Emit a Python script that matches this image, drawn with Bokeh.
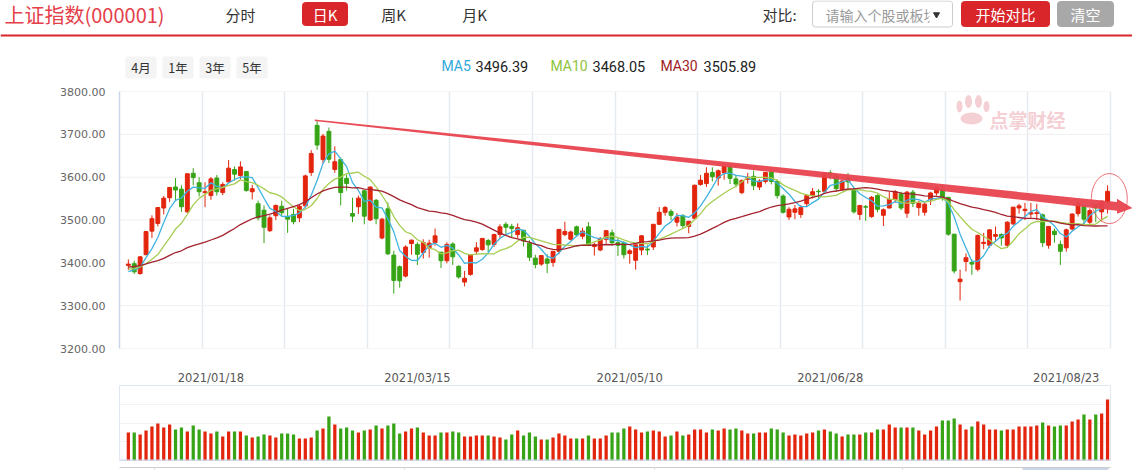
import numpy as np
import pandas as pd
from bokeh.plotting import figure
from bokeh.layouts import column
from bokeh.models import Range1d, FixedTicker, NumeralTickFormatter, Grid, ColumnDataSource, Span
from bokeh.core.properties import value
from bokeh.embed import file_html
from bokeh.resources import INLINE

# ---------------- data ----------------
holidays = ["2021-01-01", "2021-02-11", "2021-02-12", "2021-02-15", "2021-02-16", "2021-02-17",
            "2021-04-05", "2021-05-03", "2021-05-04", "2021-05-05", "2021-06-14"]
dates = [d for d in pd.bdate_range("2020-12-28", "2021-09-01") if d.strftime("%Y-%m-%d") not in holidays]

# closes of the 29 sessions before the window (needed for the moving averages)
close_before = [3340, 3347, 3363, 3378, 3414, 3403, 3362, 3370, 3408, 3392,
                3452, 3449, 3442, 3445, 3417, 3410, 3372, 3373, 3347, 3369,
                3367, 3367, 3405, 3395, 3421, 3357, 3382, 3363, 3397]

open_ = [3394, 3398, 3375, 3419, 3474, 3492, 3528, 3552, 3577, 3572,
         3519, 3609, 3587, 3564, 3557, 3598, 3564, 3589, 3618, 3604,
         3613, 3566, 3538, 3523, 3475, 3510, 3532, 3507, 3513, 3505,
         3533, 3611, 3721, 3641, 3707, 3618, 3641, 3597, 3515, 3531,
         3568, 3500, 3546, 3458, 3526, 3418, 3391, 3369, 3445, 3443,
         3424, 3435, 3447, 3425, 3405, 3444, 3392, 3355, 3373, 3427,
         3431, 3452, 3443, 3466, 3490, 3485, 3466, 3476, 3446, 3411,
         3397, 3409, 3401, 3427, 3466, 3455, 3484, 3462, 3484, 3438,
         3430, 3455, 3470, 3447, 3447, 3422, 3406, 3430, 3432, 3437,
         3490, 3518, 3520, 3495, 3510, 3485, 3504, 3583, 3585, 3611,
         3598, 3610, 3625, 3596, 3564, 3595, 3602, 3577, 3590, 3612,
         3590, 3556, 3507, 3518, 3513, 3538, 3557, 3567, 3567, 3610,
         3604, 3571, 3598, 3571, 3513, 3531, 3508, 3557, 3511, 3528,
         3548, 3561, 3516, 3565, 3529, 3518, 3548, 3563, 3570, 3553,
         3467, 3356, 3403, 3401, 3385, 3445, 3441, 3462, 3466, 3441,
         3491, 3528, 3522, 3514, 3515, 3512, 3441, 3474, 3443, 3435,
         3479, 3515, 3532, 3495, 3535, 3519, 3541]

high = [3408, 3405, 3416, 3474, 3511, 3529, 3556, 3577, 3598, 3581,
        3608, 3621, 3600, 3588, 3600, 3605, 3588, 3640, 3625, 3637,
        3613, 3582, 3545, 3534, 3511, 3536, 3545, 3527, 3526, 3537,
        3606, 3663, 3732, 3701, 3716, 3672, 3646, 3606, 3552, 3557,
        3570, 3578, 3549, 3505, 3541, 3428, 3394, 3441, 3454, 3448,
        3455, 3454, 3480, 3425, 3448, 3448, 3394, 3381, 3420, 3448,
        3458, 3456, 3468, 3490, 3495, 3491, 3492, 3477, 3453, 3419,
        3418, 3420, 3427, 3479, 3496, 3475, 3487, 3482, 3495, 3447,
        3460, 3477, 3478, 3457, 3450, 3432, 3442, 3465, 3441, 3490,
        3530, 3533, 3525, 3516, 3514, 3498, 3583, 3605, 3623, 3623,
        3618, 3628, 3626, 3606, 3595, 3610, 3615, 3595, 3612, 3614,
        3595, 3560, 3530, 3535, 3535, 3560, 3575, 3572, 3612, 3616,
        3607, 3594, 3610, 3575, 3535, 3535, 3556, 3560, 3527, 3566,
        3570, 3566, 3568, 3570, 3545, 3540, 3566, 3579, 3580, 3553,
        3467, 3384, 3422, 3408, 3466, 3470, 3478, 3485, 3469, 3497,
        3530, 3538, 3540, 3540, 3538, 3515, 3486, 3480, 3452, 3480,
        3515, 3545, 3535, 3527, 3542, 3545, 3581]

low = [3383, 3374, 3372, 3418, 3458, 3485, 3513, 3542, 3544, 3519,
       3517, 3581, 3555, 3530, 3547, 3557, 3558, 3588, 3592, 3595,
       3566, 3548, 3499, 3446, 3472, 3500, 3510, 3470, 3490, 3495,
       3530, 3603, 3664, 3632, 3633, 3610, 3534, 3569, 3495, 3514,
       3490, 3498, 3490, 3455, 3418, 3328, 3342, 3366, 3419, 3395,
       3410, 3412, 3440, 3388, 3399, 3395, 3363, 3345, 3370, 3419,
       3428, 3425, 3437, 3458, 3468, 3458, 3458, 3438, 3404, 3387,
       3393, 3376, 3391, 3420, 3462, 3452, 3460, 3455, 3439, 3417,
       3427, 3445, 3440, 3416, 3410, 3398, 3384, 3418, 3418, 3430,
       3488, 3510, 3500, 3485, 3480, 3469, 3503, 3580, 3577, 3590,
       3580, 3594, 3584, 3576, 3560, 3585, 3570, 3570, 3585, 3583,
       3550, 3515, 3500, 3502, 3505, 3530, 3550, 3550, 3566, 3595,
       3566, 3568, 3574, 3515, 3500, 3498, 3505, 3518, 3486, 3527,
       3540, 3523, 3505, 3530, 3510, 3510, 3535, 3557, 3545, 3463,
       3375, 3312, 3380, 3372, 3380, 3432, 3435, 3449, 3440, 3435,
       3488, 3515, 3500, 3505, 3500, 3437, 3433, 3447, 3395, 3426,
       3475, 3508, 3490, 3487, 3495, 3497, 3515]

close = [3397, 3379, 3414, 3473, 3503, 3529, 3551, 3576, 3570, 3531,
         3608, 3599, 3566, 3566, 3596, 3566, 3583, 3621, 3607, 3624,
         3569, 3573, 3505, 3483, 3505, 3534, 3517, 3502, 3496, 3532,
         3603, 3655, 3675, 3696, 3642, 3636, 3564, 3585, 3509, 3551,
         3509, 3577, 3503, 3502, 3421, 3359, 3358, 3437, 3453, 3420,
         3447, 3446, 3463, 3405, 3443, 3414, 3367, 3364, 3418, 3435,
         3457, 3442, 3466, 3484, 3483, 3480, 3482, 3451, 3413, 3396,
         3417, 3399, 3427, 3478, 3473, 3472, 3465, 3474, 3441, 3443,
         3457, 3475, 3447, 3441, 3419, 3428, 3442, 3463, 3430, 3490,
         3518, 3529, 3511, 3507, 3487, 3497, 3581, 3593, 3609, 3601,
         3615, 3625, 3597, 3584, 3592, 3600, 3580, 3591, 3611, 3590,
         3557, 3518, 3525, 3526, 3529, 3557, 3566, 3566, 3608, 3606,
         3573, 3591, 3589, 3519, 3534, 3530, 3553, 3525, 3524, 3548,
         3566, 3528, 3565, 3539, 3539, 3537, 3563, 3575, 3550, 3467,
         3381, 3362, 3412, 3397, 3464, 3448, 3477, 3466, 3458, 3495,
         3530, 3533, 3525, 3517, 3517, 3447, 3485, 3466, 3427, 3477,
         3514, 3538, 3502, 3522, 3528, 3544, 3567]

volume = [336, 336, 312, 360, 408, 444, 396, 432, 372, 396,
          348, 420, 372, 348, 324, 348, 288, 348, 348, 348,
          300, 276, 288, 312, 300, 276, 324, 324, 312, 264,
          264, 276, 360, 384, 528, 432, 384, 396, 360, 336,
          360, 372, 420, 384, 420, 444, 324, 348, 384, 396,
          336, 300, 300, 336, 336, 348, 336, 288, 288, 300,
          300, 300, 288, 276, 252, 312, 360, 300, 336, 288,
          252, 252, 276, 324, 300, 264, 264, 264, 300, 264,
          264, 300, 336, 336, 384, 408, 372, 336, 348, 360,
          348, 288, 300, 348, 300, 312, 372, 372, 336, 372,
          360, 384, 372, 384, 360, 324, 324, 336, 336, 384,
          372, 336, 300, 312, 300, 324, 336, 360, 372, 348,
          324, 288, 312, 312, 312, 336, 336, 372, 372, 432,
          396, 396, 396, 396, 360, 312, 360, 408, 480, 480,
          504, 432, 372, 408, 468, 432, 372, 372, 360, 372,
          372, 408, 408, 408, 420, 456, 420, 408, 420, 420,
          468, 492, 552, 492, 552, 564, 732]

price_ticks = [3200, 3300, 3400, 3500, 3600, 3700, 3800]
date_tick_labels = ["2021/01/18", "2021/03/15", "2021/05/10", "2021/06/28", "2021/08/23"]
ma_windows = [5, 10, 30]
ma_names = ["MA5", "MA10", "MA30"]
ma_legend_values = ["3496.39", "3468.05", "3505.89"]
period_buttons = ["4月", "1年", "3年", "5年"]

# trend line drawn on the chart (index, price)
trend_start = (31.6, 3733)
trend_end = (170.2, 3528)
highlight = (166.3, 3550)

# ---------------- styling ----------------
RED = "#e2250c"
GREEN = "#36a416"
MA_COLORS = ["#3fb3e0", "#a7cd52", "#a3232f"]
MA_TEXT = ["#2fa8dc", "#8dc43c", "#9e1b24"]
CJK = "Noto Sans CJK SC"
ARROW = "#e8434f"

N = len(close)
x = np.arange(N)
o = np.array(open_, float); c = np.array(close, float)
up = c >= o
colors = [RED if u else GREEN for u in up]
allc = pd.Series(close_before + close, dtype=float)
mas = [allc.rolling(w).mean().iloc[-N:].to_numpy() for w in ma_windows]

src = ColumnDataSource(dict(
    x=x, open=o, close=c, high=high, low=low,
    top=np.maximum(o, c), bottom=np.minimum(o, c), color=colors,
    vol=volume, ma5=mas[0], ma10=mas[1], ma30=mas[2]))

# geometry (page pixels)
FIG_W = 1132
FRAME_L = 119
X0, X1 = -1.5, 166.5   # index range over 991 px
PXX = 991 / (X1 - X0)
MAIN_XEND = X0 + (FIG_W - FRAME_L) / PXX
PXY = 257 / 600.0


def no_align(fig):
    if "frame_align" in fig.properties():
        fig.frame_align = False
    return fig


# ---------------- header ----------------
hdr = figure(width=FIG_W, height=81, x_range=Range1d(0, FIG_W), y_range=Range1d(81, 0),
             output_backend="svg", toolbar_location=None, x_axis_location=None,
             y_axis_location=None, min_border=0, outline_line_color=None)
no_align(hdr)
hdr.grid.visible = False

hdr.quad(left=[302, 812, 961, 1057], right=[347, 952, 1049, 1113],
         top=[2, 0.5, 1, 1], bottom=[25, 26.5, 26, 26],
         fill_color=["#d9262b", "white", "#d9262b", "#a8a8a8"],
         line_color=["#d9262b", "#cccccc", "#d9262b", "#a8a8a8"], border_radius=3)
hdr.text(x=[4], y=[14], text=["上证指数(000001)"], text_font=value(CJK), text_font_size="20px",
         text_color="#e5404a", text_align="left", text_baseline="middle")
hdr.text(x=[240, 324.5, 393, 474], y=[14] * 4, text=["分时", "日K", "周K", "月K"],
         text_font=value(CJK), text_font_size="15px",
         text_color=["#333333", "white", "#333333", "#333333"],
         text_align="center", text_baseline="middle")
hdr.text(x=[762], y=[14], text=["对比:"], text_font=value(CJK), text_font_size="15px",
         text_color="#333333", text_align="left", text_baseline="middle")
hdr.text(x=[825], y=[14], text=["请输入个股或板块"], text_font=value(CJK), text_font_size="14px",
         text_color="#999999", text_align="left", text_baseline="middle")
hdr.quad(left=[929], right=[951], top=[2], bottom=[25], fill_color="white", line_color=None)
hdr.scatter(x=[936], y=[14], marker="inverted_triangle", size=6, color="#333333")
hdr.text(x=[1005, 1085], y=[14, 14], text=["开始对比", "清空"], text_font=value(CJK),
         text_font_size="15px", text_color="white", text_align="center", text_baseline="middle")
hdr.segment(x0=[0], x1=[FIG_W], y0=[35], y1=[35], line_color="#d9262b", line_width=2)

bl = [125, 162, 199, 236]
hdr.quad(left=bl, right=[b + 31 for b in bl], top=[56] * 4, bottom=[78] * 4,
         fill_color="#f4f4f4", line_color=None, border_radius=2)
hdr.text(x=[b + 15.5 for b in bl], y=[67] * 4, text=period_buttons, text_font=value(CJK),
         text_font_size="12.5px", text_color="#333333", text_align="center", text_baseline="middle")

hdr.text(x=[441, 550, 660], y=[65.5] * 3, text=ma_names, text_font=value("Roboto"),
         text_font_size="14px", text_color=MA_TEXT, text_align="left", text_baseline="middle")
hdr.text(x=[475, 592, 703], y=[65.5] * 3, text=ma_legend_values, text_font=value("Roboto"),
         text_font_size="14.5px", text_color="#222222", text_align="left", text_baseline="middle")

# ---------------- main candle chart ----------------
main = figure(width=FIG_W, height=279, x_range=Range1d(X0, MAIN_XEND), y_range=Range1d(3200, 3800),
              output_backend="svg", toolbar_location=None, x_axis_location=None,
              min_border_left=FRAME_L, min_border_right=0, min_border_top=10, min_border_bottom=12,
              outline_line_color=None)
no_align(main)
main.grid.visible = False
main.add_layout(Grid(dimension=0, ticker=FixedTicker(ticks=list(np.arange(X0, X1 + 0.1, 14))),
                     grid_line_color="#e5eaf1", grid_line_width=1.5))
main.segment(x0=[X0] * len(price_ticks), x1=[X1] * len(price_ticks), y0=price_ticks, y1=price_ticks,
             line_color="#f0f0f0", line_width=1)

ya = main.yaxis[0]
ya.ticker = FixedTicker(ticks=price_ticks)
ya.formatter = NumeralTickFormatter(format="0.00")
ya.bounds = (3200, 3800)
ya.axis_line_color = "#ccd6eb"
ya.axis_line_width = 1.5
ya.major_tick_line_color = None
ya.minor_tick_line_color = None
ya.major_tick_out = 0
ya.major_label_standoff = 14
ya.major_label_text_font = "DejaVu Sans"
ya.major_label_text_font_size = "11px"
ya.major_label_text_color = "#666666"


def px_x(ax):
    return X0 + (ax - FRAME_L) / PXX


def px_y(ay):
    return 3800 - (ay - 91) / PXY


WM = "#f4cfd4"
main.ellipse(x=[px_x(959), px_x(968), px_x(978), px_x(986), px_x(971)],
             y=[px_y(106), px_y(101), px_y(101), px_y(106), px_y(118)],
             width=[6 / PXX, 7 / PXX, 7 / PXX, 6 / PXX, 22 / PXX],
             height=[12 / PXY, 13 / PXY, 13 / PXY, 11 / PXY, 12 / PXY],
             fill_color=WM, line_color=None)
main.text(x=[px_x(989)], y=[px_y(119)], text=["点掌财经"], text_font=value(CJK),
          text_font_size="19px", text_font_style="bold", text_color=WM,
          text_align="left", text_baseline="middle")

main.segment(x0="x", x1="x", y0="high", y1="low", line_color="color", line_width=1, source=src)
main.vbar(x="x", width=0.66, top="top", bottom="bottom", fill_color="color", line_color="color",
          source=src)
for col, clr in zip(["ma5", "ma10", "ma30"], MA_COLORS):
    main.line(x="x", y=col, line_color=clr, line_width=1.3, source=src)

tx0, ty0 = trend_start
txt, tyt = trend_end
slope = (tyt - ty0) / (txt - tx0)
xb = txt - 2.6
yb = ty0 + slope * (xb - tx0)
t0, t1, hh = 0.8 / PXY, 4.3 / PXY, 7.5 / PXY
main.patch(x=[tx0, xb, xb, txt, xb, xb, tx0],
           y=[ty0 + t0, yb + t1, yb + hh, tyt, yb - hh, yb - t1, ty0 - t0],
           fill_color=ARROW, fill_alpha=0.95, line_color=None)
main.ellipse(x=[highlight[0]], y=[highlight[1]], width=36 / PXX, height=50 / PXY,
             fill_color=None, line_color=ARROW, line_alpha=0.75, line_width=1)

# ---------------- volume ----------------
vol = figure(width=FIG_W, height=102, x_range=Range1d(X0, X1), y_range=Range1d(0, 900),
             output_backend="svg", toolbar_location=None, x_axis_location="above",
             y_axis_location=None, min_border_left=FRAME_L, min_border_right=FIG_W - FRAME_L - 991,
             min_border_top=25, min_border_bottom=2, outline_line_color="#e2e8f0")
no_align(vol)
vol.xgrid.visible = False
vol.ygrid.ticker = FixedTicker(ticks=[225, 450, 675])
vol.ygrid.grid_line_color = "#f0f2f5"
tick_idx = [dates.index(pd.Timestamp(s.replace("/", "-"))) for s in date_tick_labels]
xa = vol.xaxis[0]
xa.ticker = FixedTicker(ticks=tick_idx)
xa.major_label_overrides = {i: s for i, s in zip(tick_idx, date_tick_labels)}
xa.axis_line_color = None
xa.major_tick_line_color = None
xa.minor_tick_line_color = None
xa.major_tick_out = 0
xa.major_label_standoff = 1
xa.major_label_text_font = "DejaVu Sans"
xa.major_label_text_font_size = "11.5px"
xa.major_label_text_color = "#555555"
vol.vbar(x="x", width=0.55, top="vol", bottom=0, fill_color="color", line_color=None, source=src)
vol.add_layout(Span(location=0, dimension="width", line_color="#ccd6eb", line_width=2))

# ---------------- range navigator strip (decoration) ----------------
nav = figure(width=FIG_W, height=8, x_range=Range1d(0, FIG_W), y_range=Range1d(8, 0),
             output_backend="svg", toolbar_location=None, x_axis_location=None,
             y_axis_location=None, min_border=0, outline_line_color=None)
no_align(nav)
nav.grid.visible = False
nav.quad(left=[1022], right=[1108], top=[1], bottom=[8], fill_color="#cdd6e6", line_color=None)
nav.segment(x0=[119], x1=[1110], y0=[1], y1=[1], line_color="#cccccc", line_width=1)
nav.segment(x0=[154, 404, 654, 902], x1=[154, 404, 654, 902], y0=[1] * 4, y1=[8] * 4,
            line_color="#dddddd", line_width=1)

layout = column(hdr, main, vol, nav)
open("out.html", "w").write(file_html(layout, INLINE))
